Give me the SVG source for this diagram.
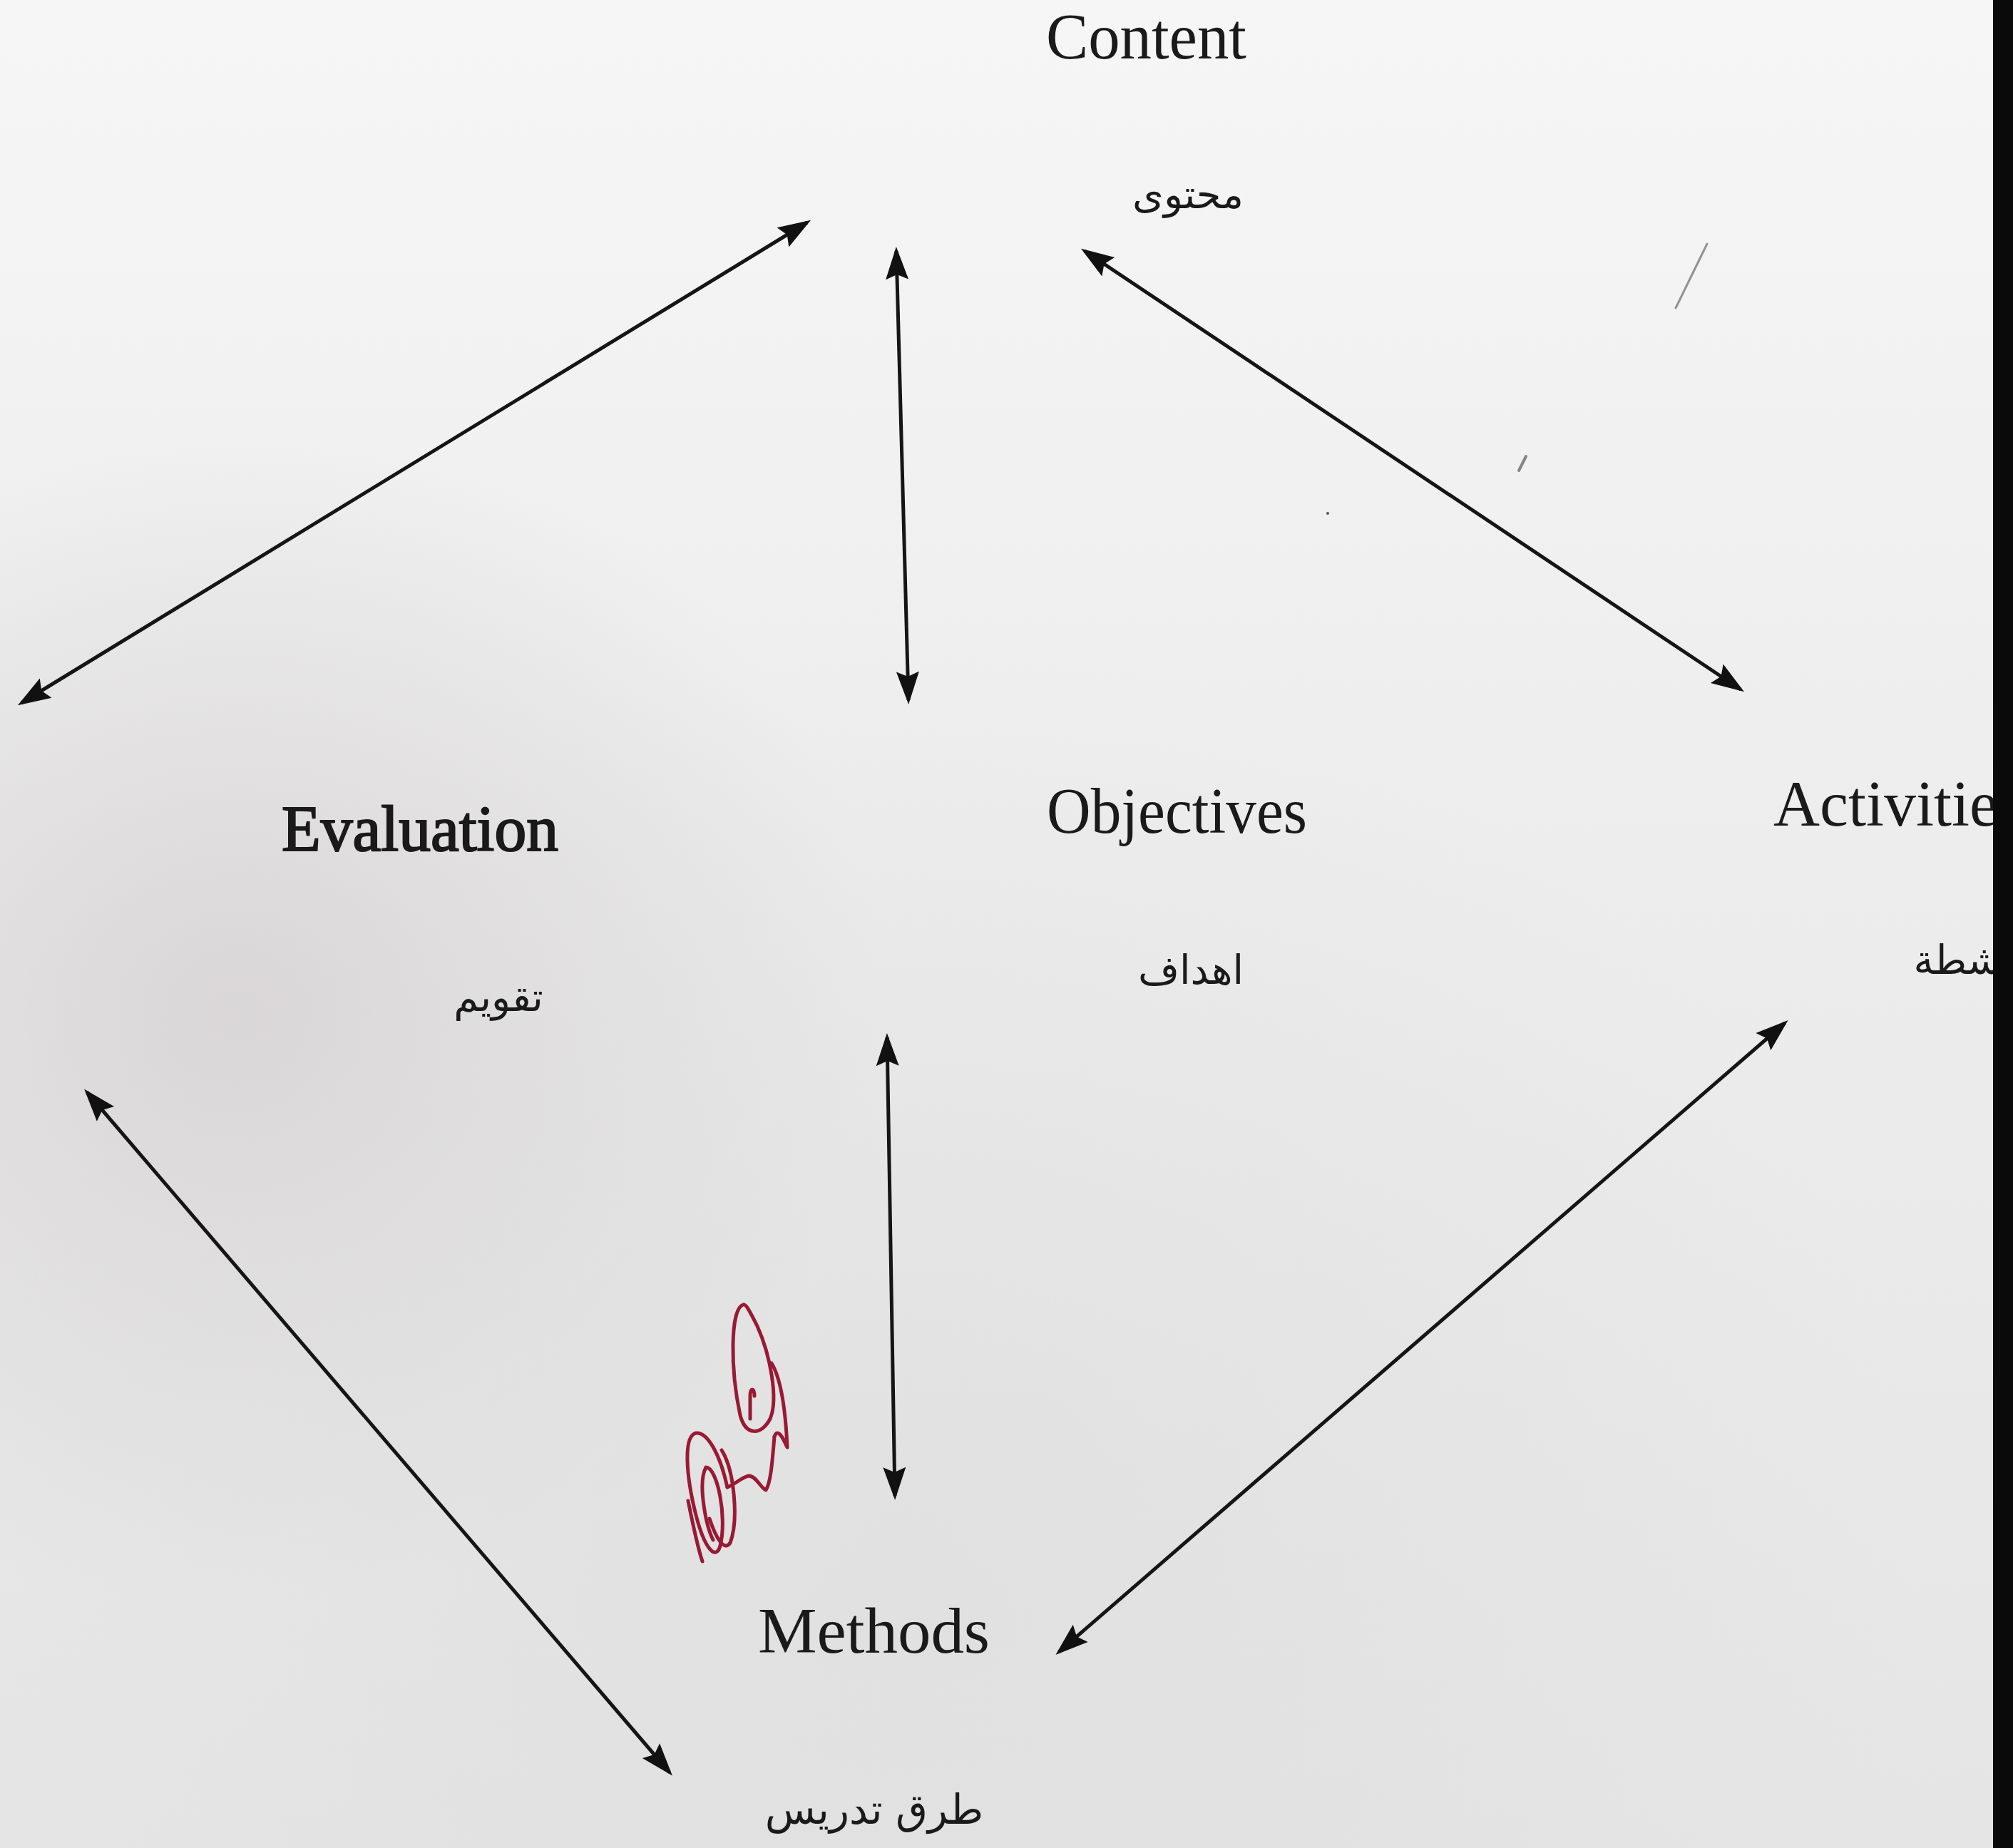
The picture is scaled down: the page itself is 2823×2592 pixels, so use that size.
<svg xmlns="http://www.w3.org/2000/svg" width="2823" height="2592" viewBox="0 0 2823 2592">
<defs>
<style>
.en{font-family:"Liberation Serif","DejaVu Serif",serif;font-size:90px;fill:#1a1a1a;}
.heavy{stroke:#1a1a1a;stroke-width:2.2;}
.ar{font-family:"DejaVu Sans","Noto Sans",sans-serif;fill:#1a1a1a;text-anchor:middle;}
.conn{stroke:#151515;stroke-width:5;fill:none;marker-start:url(#ah);marker-end:url(#ah);}
.scribble{fill:none;stroke:#981a34;stroke-width:5;stroke-linecap:round;stroke-linejoin:round;}
</style>
<marker id="ah" markerUnits="userSpaceOnUse" viewBox="0 0 46 38" markerWidth="46" markerHeight="38" refX="40" refY="19" orient="auto-start-reverse">
<path d="M0,3 L46,19 L0,35 L7,19 Z" fill="#111"/>
</marker>
<linearGradient id="bgv" x1="0" y1="0" x2="0" y2="1">
<stop offset="0" stop-color="#f6f6f6"/>
<stop offset="0.45" stop-color="#ededed"/>
<stop offset="1" stop-color="#e5e5e5"/>
</linearGradient>
<radialGradient id="shadeL" cx="0.12" cy="0.55" r="0.32">
<stop offset="0" stop-color="#d6d2d3" stop-opacity="0.85"/>
<stop offset="1" stop-color="#d6d2d3" stop-opacity="0"/>
</radialGradient>
<radialGradient id="shadeB" cx="0.45" cy="0.85" r="0.5">
<stop offset="0" stop-color="#dcdcdc" stop-opacity="0.6"/>
<stop offset="1" stop-color="#dcdcdc" stop-opacity="0"/>
</radialGradient>
</defs>

<rect x="0" y="0" width="2823" height="2592" fill="url(#bgv)"/>
<rect x="0" y="0" width="2823" height="2592" fill="url(#shadeL)"/>
<rect x="0" y="0" width="2823" height="2592" fill="url(#shadeB)"/>

<g id="marks" stroke="#6a6a6a" stroke-linecap="round" fill="none">
<line x1="2394" y1="342" x2="2350" y2="432" stroke-width="3" opacity="0.7"/>
<line x1="2140" y1="640" x2="2130" y2="660" stroke-width="4" opacity="0.8"/>
<circle cx="1862" cy="720" r="2" fill="#555" stroke="none"/>
</g>

<g id="connectors">
<line class="conn" x1="30" y1="986" x2="1132" y2="312"/>
<line class="conn" x1="1257" y1="352" x2="1274" y2="982"/>
<line class="conn" x1="1521" y1="352" x2="2441" y2="967"/>
<line class="conn" x1="122" y1="1532" x2="939" y2="2486"/>
<line class="conn" x1="1244" y1="1455" x2="1255" y2="2098"/>
<line class="conn" x1="2503" y1="1435" x2="1485" y2="2317"/>
</g>

<g id="node-content">
<text class="en" x="1467" y="82" textLength="281" lengthAdjust="spacingAndGlyphs">Content</text>
<text class="ar" x="1666" y="292" font-size="56">محتوى</text>
</g>

<g id="node-objectives">
<text class="en" x="1468" y="1168" textLength="365" lengthAdjust="spacingAndGlyphs">Objectives</text>
<text class="ar" x="1670" y="1380" font-size="56">اهداف</text>
</g>

<g id="node-evaluation">
<text class="en heavy" x="395" y="1193" textLength="388" lengthAdjust="spacingAndGlyphs">Evaluation</text>
<text class="ar" x="699" y="1418" font-size="56">تقويم</text>
</g>

<g id="node-methods">
<text class="en" x="1063" y="2318" textLength="325" lengthAdjust="spacingAndGlyphs">Methods</text>
<text class="ar" x="1226" y="2558" font-size="58">طرق تدريس</text>
</g>

<g id="node-activities">
<text class="en" x="2487" y="1158" textLength="350" lengthAdjust="spacingAndGlyphs">Activities</text>
<text class="ar" x="2762" y="1366" font-size="56">انشطة</text>
</g>

<g id="signature" class="scribble">
<path d="M1042,1830 C1024,1836 1024,1920 1038,1985 C1046,2015 1068,2013 1080,1990 C1092,1962 1080,1900 1062,1860 C1052,1840 1046,1828 1042,1830 Z"/>
<path d="M1052,1990 L1052,1958 C1052,1946 1058,1946 1058,1958"/>
<path d="M1082,1912 C1096,1935 1102,1985 1104,2030 C1096,2012 1090,2004 1086,2015"/>
<path d="M1086,2015 C1083,2050 1081,2080 1074,2090 C1066,2086 1060,2070 1050,2070 C1040,2072 1034,2080 1020,2086"/>
<path d="M1020,2086 C1010,2040 992,2008 976,2010 C958,2014 962,2070 976,2125 C988,2172 1004,2190 1010,2168 C1020,2128 1006,2058 990,2058 C978,2080 990,2140 1000,2160"/>
<path d="M1012,2034 C1030,2062 1036,2132 1024,2164 C1016,2176 1005,2160 995,2130"/>
<path d="M965,2105 C972,2140 980,2175 985,2190"/>
</g>

<rect id="edge" x="2795" y="0" width="28" height="2592" fill="#0a0a0a"/>
</svg>
